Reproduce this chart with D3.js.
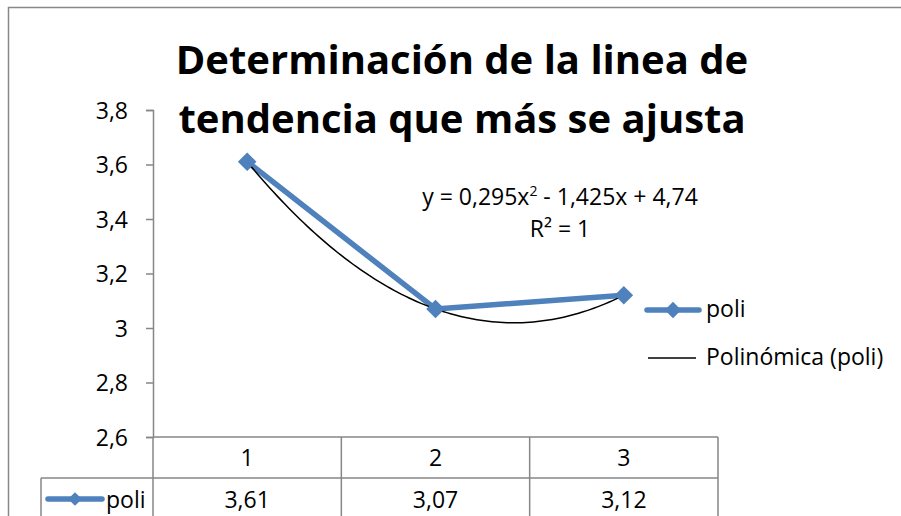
<!DOCTYPE html>
<html lang="es">
<head>
    <meta charset="UTF-8">
    <script src="https://cdn.jsdelivr.net/npm/d3@7/dist/d3.min.js"></script>
    <title>Determinación de la linea de tendencia</title>
    <style>
        html, body {
            margin: 0;
            padding: 0;
            background-color: #ffffff;
            font-family: "Open Sans", sans-serif;
        }
        svg { display: block; }
    </style>
</head>
<body>
    <div id="chart"></div>

    <script>
        // data
        let categories = [1, 2, 3];
        let poli = [3.61, 3.07, 3.12];
        let yTicks = [2.6, 2.8, 3, 3.2, 3.4, 3.6, 3.8];
        // trend line coefficients (a, b, c) from y = a x^2 + b x + c
        let polyCoef = [0.295, -1.425, 4.74];
        let titleLines = ['Determinación de la linea de', 'tendencia que más se ajusta'];

        let width = 901, height = 516;
        let margin = { top: 110, bottom: 79, left: 153, right: 183 };
        let fontSize = 23;

        let svg = d3.select('#chart').append('svg')
            .attr('width', width)
            .attr('height', height)
            .attr('font-family', '"Open Sans", sans-serif');

        let fmt = (v) => String(+v.toFixed(2)).replace('.', ',');

        // chart frame (cut off right and bottom)
        svg.append('rect')
            .attr('x', 8.5).attr('y', 7.5)
            .attr('width', width).attr('height', height)
            .attr('fill', 'none')
            .attr('stroke', '#888888')
            .attr('stroke-width', 1.5);

        let x = d3.scaleBand()
            .domain(categories)
            .range([margin.left, width - margin.right]);

        let y = d3.scaleLinear()
            .domain([2.6, 3.8])
            .range([height - margin.bottom, margin.top]);

        // x as continuous position for the trend curve
        let xc = d3.scaleLinear()
            .domain([1, 3])
            .range([x(1) + x.bandwidth() / 2, x(3) + x.bandwidth() / 2]);

        // y axis
        let yAxis = d3.axisLeft(y)
            .tickValues(yTicks)
            .tickSize(7)
            .tickPadding(18)
            .tickFormat(fmt);

        let gy = svg.append('g')
            .attr('transform', `translate(${margin.left},0)`)
            .call(yAxis);
        gy.select('.domain').attr('stroke', '#868686').attr('stroke-width', 1.5);
        gy.selectAll('.tick line').attr('stroke', '#868686').attr('stroke-width', 1.5);
        gy.selectAll('.tick text')
            .attr('font-size', fontSize)
            .attr('font-family', '"Open Sans", sans-serif')
            .attr('dy', '0.36em')
            .attr('fill', '#000');

        // data table
        let tableTop = y(2.6);
        let rowH = 41;
        let tableLeft = 41;
        let tableRight = x(3) + x.bandwidth();
        let grid = svg.append('g')
            .attr('stroke', '#868686')
            .attr('stroke-width', 1.5);

        grid.append('line')
            .attr('x1', margin.left).attr('x2', tableRight)
            .attr('y1', tableTop).attr('y2', tableTop);
        grid.append('line')
            .attr('x1', tableLeft).attr('x2', tableRight)
            .attr('y1', tableTop + rowH).attr('y2', tableTop + rowH);
        grid.append('line')
            .attr('x1', tableLeft).attr('x2', tableRight)
            .attr('y1', tableTop + 2 * rowH).attr('y2', tableTop + 2 * rowH);
        grid.append('line')
            .attr('x1', tableLeft).attr('x2', tableLeft)
            .attr('y1', tableTop + rowH).attr('y2', tableTop + 2 * rowH);
        grid.selectAll('.vline')
            .data(categories.concat(['end']))
            .join('line')
            .attr('class', 'vline')
            .attr('x1', (d) => d === 'end' ? tableRight : x(d))
            .attr('x2', (d) => d === 'end' ? tableRight : x(d))
            .attr('y1', tableTop)
            .attr('y2', tableTop + 2 * rowH);

        svg.selectAll('.cat-label')
            .data(categories)
            .join('text')
            .attr('class', 'cat-label')
            .attr('x', (d) => x(d) + x.bandwidth() / 2)
            .attr('y', tableTop + 29)
            .attr('text-anchor', 'middle')
            .attr('font-size', fontSize)
            .text((d) => d);

        svg.selectAll('.val-label')
            .data(poli)
            .join('text')
            .attr('class', 'val-label')
            .attr('x', (d, i) => x(categories[i]) + x.bandwidth() / 2)
            .attr('y', tableTop + rowH + 30)
            .attr('text-anchor', 'middle')
            .attr('font-size', fontSize)
            .text((d) => fmt(d));

        let blue = '#4f81bd';

        function legendKey(g, cx, cy, half, size) {
            g.append('line')
                .attr('x1', cx - half).attr('x2', cx + half)
                .attr('y1', cy).attr('y2', cy)
                .attr('stroke', blue)
                .attr('stroke-width', 5.5)
                .attr('stroke-linecap', 'round');
            g.append('path')
                .attr('d', d3.symbol().type(d3.symbolDiamond2).size(size))
                .attr('transform', `translate(${cx},${cy})`)
                .attr('fill', blue);
        }

        // table legend key
        let tk = svg.append('g');
        legendKey(tk, 75, tableTop + rowH + 21, 27, 120);
        svg.append('text')
            .attr('x', 106)
            .attr('y', tableTop + rowH + 30)
            .attr('font-size', fontSize)
            .text('poli');

        // series line
        let line = d3.line()
            .x((d, i) => x(categories[i]) + x.bandwidth() / 2)
            .y((d) => y(d));

        svg.append('path')
            .datum(poli)
            .attr('d', line)
            .attr('fill', 'none')
            .attr('stroke', blue)
            .attr('stroke-width', 5.5)
            .attr('stroke-linejoin', 'round');

        // trend curve
        let curveX = d3.range(1, 3.0001, 0.02);
        let poly = (t) => polyCoef[0] * t * t + polyCoef[1] * t + polyCoef[2];
        svg.append('path')
            .datum(curveX)
            .attr('d', d3.line().x((t) => xc(t)).y((t) => y(poly(t))))
            .attr('fill', 'none')
            .attr('stroke', '#000')
            .attr('stroke-width', 1.5);

        svg.selectAll('.marker')
            .data(poli)
            .join('path')
            .attr('class', 'marker')
            .attr('d', d3.symbol().type(d3.symbolDiamond2).size(220))
            .attr('transform', (d, i) => `translate(${x(categories[i]) + x.bandwidth() / 2},${y(d)})`)
            .attr('fill', blue);

        // equation label
        let eq = svg.append('text')
            .attr('x', 560)
            .attr('y', 205)
            .attr('text-anchor', 'middle')
            .attr('font-size', fontSize);
        eq.append('tspan').text('y = 0,295x');
        eq.append('tspan').attr('font-size', 14).attr('dy', -9).text('2');
        eq.append('tspan').attr('dy', 9).text(' - 1,425x + 4,74');

        svg.append('text')
            .attr('x', 560)
            .attr('y', 237)
            .attr('text-anchor', 'middle')
            .attr('font-size', fontSize)
            .text('R² = 1');

        // legend
        let lg = svg.append('g');
        legendKey(lg, 673, 310, 26, 170);
        lg.append('text')
            .attr('x', 706).attr('y', 317)
            .attr('font-size', fontSize)
            .text('poli');
        lg.append('line')
            .attr('x1', 648).attr('x2', 696)
            .attr('y1', 358).attr('y2', 358)
            .attr('stroke', '#000')
            .attr('stroke-width', 1.5);
        lg.append('text')
            .attr('x', 706).attr('y', 365)
            .attr('font-size', fontSize)
            .text('Polinómica (poli)');

        // title
        svg.selectAll('.title')
            .data(titleLines)
            .join('text')
            .attr('class', 'title')
            .attr('x', 462)
            .attr('y', (d, i) => 74 + i * 59)
            .attr('text-anchor', 'middle')
            .attr('font-size', 40)
            .attr('font-weight', 'bold')
            .text((d) => d);
    </script>
</body>
</html>
